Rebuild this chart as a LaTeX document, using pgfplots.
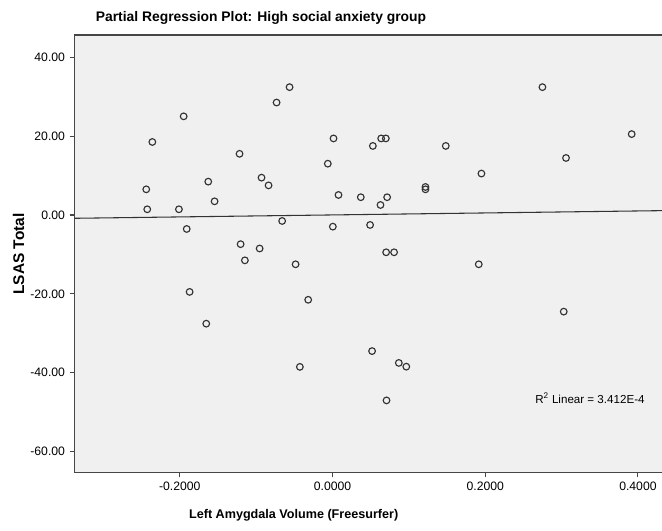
\documentclass[border=0pt]{standalone}
\usepackage{pgfplots}
\pgfplotsset{compat=1.18}
\usepackage{fontspec}
\setmainfont{Liberation Sans}
\definecolor{plotbg}{RGB}{240,240,240}
\definecolor{framec}{RGB}{70,70,70}
\definecolor{markc}{RGB}{50,50,50}
\begin{document}
\begin{tikzpicture}[x=0.75pt,y=0.75pt]
\path[use as bounding box] (0,0) rectangle (662,531);
\begin{axis}[
  at={(56.03pt,44.03pt)}, anchor=south west,
  scale only axis, width=443.5pt, height=328pt,
  xmin=-0.3377, xmax=0.4368, ymin=-65.22, ymax=45.63,
  axis background/.style={fill=plotbg},
  axis line style={framec, line width=0.9pt},
  xtick={-0.2,0,0.2,0.4}, ytick={-60,-40,-20,0,20,40},
  xtick pos=lower, ytick pos=left,
  tick align=outside, major tick length=3.75pt,
  tick style={framec, line width=0.8pt},
  /pgf/number format/assume math mode=true,
  ticklabel style={font=\fontsize{9.15}{10}\selectfont, text=black},
  xticklabel style={/pgf/number format/.cd, fixed, fixed zerofill, precision=4},
  yticklabel style={/pgf/number format/.cd, fixed, fixed zerofill, precision=2},
  clip=false,
]
% regression line (ordinary least squares fit)
\addplot[black!80, line width=0.8pt] coordinates {(-0.3377,-0.84) (0.4368,1.11)};
% observations
\addplot[only marks, mark=o, mark size=2.5pt, mark options={markc, line width=0.85pt}] coordinates {
(-0.0563,32.4) (-0.0733,28.5) (-0.195,25.0) (-0.236,18.5) (0.0013,19.4)
(-0.1218,15.5) (-0.0062,13.0) (-0.1628,8.45) (-0.0930,9.46) (-0.0838,7.5)
(-0.244,6.5) (-0.1545,3.46) (0.0078,5.07) (-0.2427,1.44) (-0.2012,1.44)
(-0.066,-1.52) (-0.191,-3.55) (0.0004,-2.96) (-0.1204,-7.4) (-0.0955,-8.5)
(-0.1148,-11.5) (-0.0484,-12.5) (0.2749,32.4) (0.3918,20.5) (0.0637,19.4)
(0.0698,19.4) (0.0528,17.5) (0.1483,17.5) (0.3058,14.45) (0.195,10.5)
(0.1217,7.1) (0.1217,6.5) (0.037,4.5) (0.0715,4.5) (0.0628,2.53)
(0.0492,-2.53) (0.0702,-9.46) (0.0806,-9.46) (0.1915,-12.5) (-0.1872,-19.5)
(-0.1654,-27.55) (-0.0319,-21.5) (-0.0428,-38.5) (0.3028,-24.5) (0.0518,-34.5)
(0.0868,-37.5) (0.0966,-38.45) (0.0707,-47)
};
\end{axis}
\node[font=\bfseries\fontsize{10.4}{12}\selectfont] at (261,513) {Partial Regression Plot: High social anxiety group};
\node[font=\bfseries\fontsize{9.45}{11}\selectfont] at (293.7,15.5) {Left Amygdala Volume (Freesurfer)};
\node[font=\bfseries\fontsize{11.6}{13}\selectfont, rotate=90] at (18.5,277) {LSAS Total};
\node[font=\fontsize{8.7}{10}\selectfont, anchor=west, inner sep=0pt] at (535,133) {R\textsuperscript{2} Linear = 3.412E-4};
\end{tikzpicture}
\end{document}
